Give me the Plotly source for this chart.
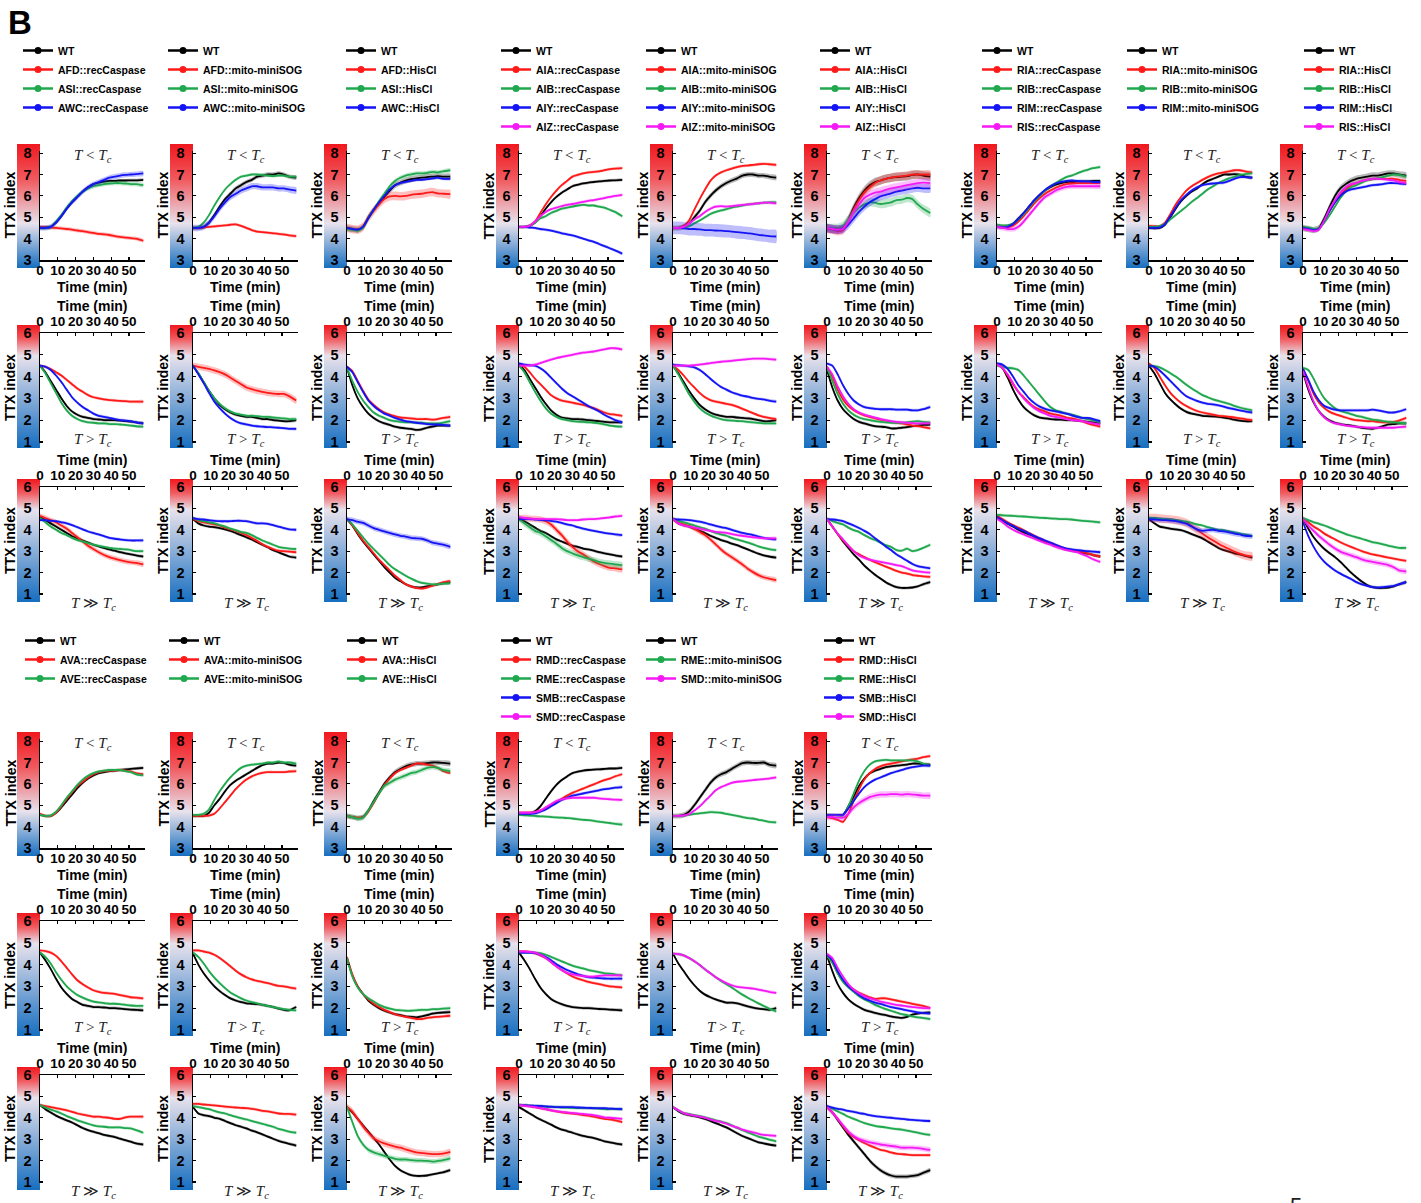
import base64
import plotly.graph_objects as go

# ---------------------------------------------------------------- data
TIME = [0, 3, 6, 9, 12, 15, 18, 21, 24, 27, 30, 33, 36, 39, 42, 45, 48, 51, 54, 58]
X_TICKS = [0, 10, 20, 30, 40, 50]
Y_TICKS_LT = [3, 4, 5, 6, 7, 8]
Y_TICKS_HI = [1, 2, 3, 4, 5, 6]

# ---- AFD / ASI / AWC
A_CASP_LT = {
    "WT":  [4.5, 4.5, 4.55, 4.75, 5.05, 5.4, 5.7, 5.95, 6.2, 6.4, 6.55, 6.62, 6.67, 6.7, 6.7, 6.72, 6.72, 6.73, 6.73, 6.75],
    "AFD": [4.55, 4.55, 4.52, 4.5, 4.48, 4.45, 4.42, 4.38, 4.35, 4.3, 4.27, 4.22, 4.2, 4.17, 4.12, 4.08, 4.05, 4.02, 4.0, 3.9],
    "ASI": [4.5, 4.5, 4.55, 4.8, 5.1, 5.45, 5.75, 6.0, 6.2, 6.35, 6.45, 6.5, 6.55, 6.58, 6.6, 6.6, 6.58, 6.55, 6.55, 6.5],
    "AWC": [4.5, 4.5, 4.55, 4.75, 5.05, 5.4, 5.7, 5.95, 6.2, 6.4, 6.55, 6.65, 6.75, 6.85, 6.9, 6.95, 6.98, 7.0, 7.02, 7.05],
}
A_SOG_LT = {
    "WT":  [4.5, 4.5, 4.55, 4.75, 5.1, 5.5, 5.85, 6.1, 6.35, 6.5, 6.65, 6.75, 6.9, 6.95, 7.0, 7.0, 7.05, 7.0, 6.9, 6.85],
    "AFD": [4.5, 4.5, 4.52, 4.55, 4.57, 4.6, 4.62, 4.65, 4.67, 4.6, 4.5, 4.4, 4.33, 4.3, 4.28, 4.25, 4.22, 4.2, 4.15, 4.12],
    "ASI": [4.5, 4.55, 4.75, 5.1, 5.55, 5.95, 6.3, 6.55, 6.75, 6.9, 6.95, 7.0, 7.0, 6.98, 6.95, 6.92, 6.95, 6.95, 6.9, 6.9],
    "AWC": [4.5, 4.5, 4.55, 4.75, 5.05, 5.4, 5.7, 5.95, 6.1, 6.25, 6.35, 6.45, 6.45, 6.4, 6.4, 6.4, 6.35, 6.35, 6.3, 6.25],
}
A_HIS_LT = {
    "WT":  [4.5, 4.45, 4.42, 4.55, 5.0, 5.35, 5.65, 5.95, 6.25, 6.5, 6.62, 6.72, 6.78, 6.82, 6.85, 6.88, 6.9, 6.92, 6.9, 6.9],
    "AFD": [4.5, 4.45, 4.42, 4.55, 4.95, 5.3, 5.6, 5.85, 5.98, 6.0, 5.98, 6.0, 6.05, 6.08, 6.1, 6.15, 6.18, 6.12, 6.1, 6.08],
    "ASI": [4.45, 4.42, 4.38, 4.5, 4.95, 5.35, 5.75, 6.1, 6.45, 6.7, 6.85, 6.95, 7.0, 7.05, 7.05, 7.08, 7.12, 7.1, 7.15, 7.2],
    "AWC": [4.5, 4.45, 4.42, 4.55, 4.95, 5.35, 5.7, 6.0, 6.3, 6.5, 6.6, 6.65, 6.7, 6.75, 6.75, 6.78, 6.82, 6.85, 6.8, 6.8],
}
A_CASP_GT = {
    "WT":  [4.5, 4.2, 3.8, 3.4, 3.0, 2.65, 2.4, 2.25, 2.15, 2.1, 2.05, 2.03, 2.0, 2.0, 2.0, 1.98, 1.95, 1.93, 1.9, 1.85],
    "AFD": [4.5, 4.45, 4.35, 4.2, 4.05, 3.85, 3.65, 3.45, 3.3, 3.15, 3.05, 3.0, 2.95, 2.92, 2.9, 2.88, 2.87, 2.85, 2.85, 2.85],
    "ASI": [4.5, 4.15, 3.7, 3.25, 2.8, 2.45, 2.2, 2.05, 1.95, 1.9, 1.88, 1.85, 1.85, 1.82, 1.82, 1.8, 1.78, 1.75, 1.72, 1.7],
    "AWC": [4.5, 4.45, 4.3, 4.05, 3.75, 3.4, 3.05, 2.8, 2.6, 2.45, 2.3, 2.2, 2.15, 2.1, 2.05, 2.0, 1.98, 1.95, 1.9, 1.85],
}
A_SOG_GT = {
    "WT":  [4.5, 4.15, 3.75, 3.35, 3.0, 2.7, 2.5, 2.35, 2.25, 2.2, 2.15, 2.15, 2.1, 2.05, 2.05, 2.0, 1.98, 1.95, 1.95, 2.0],
    "AFD": [4.5, 4.45, 4.4, 4.35, 4.28, 4.2, 4.1, 3.95, 3.8, 3.65, 3.5, 3.42, 3.35, 3.3, 3.25, 3.22, 3.2, 3.2, 3.1, 2.9],
    "ASI": [4.5, 4.15, 3.75, 3.35, 3.0, 2.75, 2.55, 2.4, 2.3, 2.25, 2.2, 2.2, 2.18, 2.15, 2.15, 2.12, 2.1, 2.08, 2.05, 2.05],
    "AWC": [4.5, 4.1, 3.7, 3.25, 2.85, 2.55, 2.3, 2.1, 1.95, 1.85, 1.8, 1.75, 1.72, 1.7, 1.68, 1.67, 1.65, 1.63, 1.6, 1.6],
}
A_HIS_GT = {
    "WT":  [4.4, 3.6, 3.0, 2.6, 2.3, 2.1, 1.95, 1.85, 1.78, 1.7, 1.65, 1.62, 1.6, 1.55, 1.58, 1.65, 1.7, 1.75, 1.75, 1.75],
    "AFD": [4.45, 4.25, 3.8, 3.35, 2.95, 2.7, 2.5, 2.35, 2.25, 2.18, 2.12, 2.1, 2.08, 2.05, 2.05, 2.05, 2.02, 2.05, 2.1, 2.15],
    "ASI": [4.4, 3.8, 3.3, 2.9, 2.6, 2.35, 2.2, 2.1, 2.0, 1.95, 1.92, 1.9, 1.9, 1.88, 1.88, 1.85, 1.85, 1.85, 1.88, 1.95],
    "AWC": [4.45, 4.2, 3.75, 3.3, 2.9, 2.65, 2.45, 2.3, 2.2, 2.1, 2.02, 1.95, 1.92, 1.88, 1.85, 1.82, 1.8, 1.8, 1.78, 1.75],
}
A_CASP_GG = {
    "WT":  [4.6, 4.45, 4.3, 4.15, 4.0, 3.85, 3.7, 3.6, 3.5, 3.4, 3.3, 3.22, 3.15, 3.08, 3.02, 2.95, 2.9, 2.85, 2.8, 2.75],
    "AFD": [4.65, 4.55, 4.45, 4.35, 4.2, 4.05, 3.85, 3.65, 3.45, 3.25, 3.1, 2.95, 2.82, 2.72, 2.65, 2.58, 2.52, 2.48, 2.45, 2.38],
    "ASI": [4.55, 4.35, 4.15, 4.0, 3.85, 3.75, 3.62, 3.52, 3.45, 3.38, 3.3, 3.25, 3.2, 3.15, 3.12, 3.1, 3.08, 3.05, 3.0, 3.0],
    "AWC": [4.45, 4.45, 4.42, 4.4, 4.35, 4.3, 4.22, 4.12, 4.02, 3.92, 3.85, 3.78, 3.7, 3.62, 3.58, 3.55, 3.52, 3.5, 3.5, 3.5],
}
A_SOG_GG = {
    "WT":  [4.5, 4.3, 4.2, 4.15, 4.12, 4.08, 4.02, 3.95, 3.85, 3.75, 3.65, 3.55, 3.42, 3.3, 3.18, 3.05, 2.95, 2.85, 2.75, 2.7],
    "AFD": [4.5, 4.4, 4.35, 4.3, 4.25, 4.2, 4.1, 4.02, 3.95, 3.85, 3.75, 3.62, 3.48, 3.32, 3.2, 3.1, 3.02, 3.0, 2.98, 2.95],
    "ASI": [4.55, 4.45, 4.4, 4.35, 4.3, 4.22, 4.15, 4.05, 3.98, 3.9, 3.85, 3.75, 3.62, 3.5, 3.4, 3.3, 3.2, 3.15, 3.12, 3.1],
    "AWC": [4.55, 4.5, 4.48, 4.45, 4.42, 4.4, 4.4, 4.4, 4.42, 4.42, 4.4, 4.35, 4.3, 4.3, 4.28, 4.22, 4.15, 4.08, 4.02, 4.0],
}
A_HIS_GG = {
    "WT":  [4.5, 4.2, 3.8, 3.45, 3.15, 2.85, 2.55, 2.25, 2.0, 1.75, 1.6, 1.45, 1.35, 1.3, 1.3, 1.35, 1.4, 1.45, 1.5, 1.55],
    "AFD": [4.5, 4.2, 3.85, 3.5, 3.2, 2.9, 2.6, 2.35, 2.1, 1.85, 1.65, 1.45, 1.35, 1.28, 1.25, 1.3, 1.38, 1.45, 1.55, 1.6],
    "ASI": [4.5, 4.25, 3.95, 3.65, 3.35, 3.1, 2.85, 2.6, 2.35, 2.15, 2.0, 1.85, 1.72, 1.6, 1.52, 1.48, 1.45, 1.45, 1.48, 1.5],
    "AWC": [4.5, 4.45, 4.38, 4.32, 4.2, 4.08, 4.0, 3.92, 3.85, 3.78, 3.72, 3.68, 3.62, 3.6, 3.58, 3.5, 3.4, 3.35, 3.3, 3.2],
}

# ---- AIA / AIB / AIY / AIZ
B_CASP_LT = {
    "WT":  [4.55, 4.55, 4.6, 4.75, 5.05, 5.4, 5.7, 5.95, 6.15, 6.3, 6.45, 6.52, 6.58, 6.62, 6.65, 6.68, 6.7, 6.72, 6.73, 6.75],
    "AIA": [4.55, 4.55, 4.6, 4.8, 5.2, 5.6, 5.95, 6.25, 6.5, 6.7, 6.9, 6.98, 7.05, 7.1, 7.12, 7.15, 7.2, 7.25, 7.28, 7.3],
    "AIB": [4.55, 4.55, 4.6, 4.75, 4.95, 5.05, 5.2, 5.3, 5.4, 5.45, 5.5, 5.55, 5.58, 5.55, 5.55, 5.5, 5.45, 5.35, 5.25, 5.05],
    "AIY": [4.55, 4.55, 4.52, 4.5, 4.45, 4.42, 4.38, 4.32, 4.25, 4.2, 4.15, 4.08, 4.0, 3.92, 3.85, 3.75, 3.65, 3.55, 3.45, 3.3],
    "AIZ": [4.55, 4.55, 4.6, 4.8, 5.05, 5.25, 5.38, 5.45, 5.52, 5.58, 5.62, 5.67, 5.72, 5.77, 5.8, 5.85, 5.9, 5.95, 6.0, 6.05],
}
B_SOG_LT = {
    "WT":  [4.5, 4.5, 4.55, 4.7, 5.0, 5.3, 5.7, 6.0, 6.25, 6.45, 6.6, 6.72, 6.82, 6.95, 7.0, 7.0, 6.95, 6.95, 6.9, 6.85],
    "AIA": [4.5, 4.5, 4.6, 4.85, 5.35, 5.85, 6.3, 6.7, 6.95, 7.1, 7.2, 7.28, 7.35, 7.4, 7.42, 7.45, 7.48, 7.5, 7.48, 7.45],
    "AIB": [4.5, 4.5, 4.52, 4.58, 4.72, 4.85, 5.0, 5.15, 5.25, 5.32, 5.38, 5.45, 5.5, 5.55, 5.6, 5.62, 5.65, 5.68, 5.7, 5.7],
    "AIY": [4.5, 4.5, 4.48, 4.45, 4.45, 4.43, 4.4, 4.4, 4.38, 4.37, 4.35, 4.33, 4.3, 4.28, 4.25, 4.22, 4.18, 4.15, 4.12, 4.1],
    "AIZ": [4.5, 4.5, 4.55, 4.7, 4.9, 5.05, 5.25, 5.4, 5.5, 5.52, 5.5, 5.52, 5.55, 5.58, 5.6, 5.62, 5.65, 5.68, 5.68, 5.65],
}
B_HIS_LT = {
    "WT":  [4.5, 4.45, 4.42, 4.5, 4.9, 5.45, 5.9, 6.25, 6.5, 6.65, 6.72, 6.8, 6.85, 6.88, 6.9, 6.92, 6.98, 7.0, 6.95, 6.9],
    "AIA": [4.45, 4.42, 4.35, 4.4, 4.8, 5.35, 5.8, 6.15, 6.4, 6.6, 6.72, 6.8, 6.85, 6.9, 6.92, 6.95, 7.0, 7.0, 7.0, 7.0],
    "AIB": [4.5, 4.5, 4.5, 4.6, 4.9, 5.2, 5.45, 5.6, 5.7, 5.68, 5.62, 5.65, 5.7, 5.8, 5.82, 5.9, 5.85, 5.6, 5.4, 5.2],
    "AIY": [4.5, 4.45, 4.42, 4.45, 4.65, 4.95, 5.25, 5.5, 5.7, 5.85, 5.98, 6.05, 6.12, 6.2, 6.25, 6.3, 6.35, 6.38, 6.35, 6.35],
    "AIZ": [4.5, 4.45, 4.42, 4.45, 4.8, 5.25, 5.6, 5.9, 6.05, 6.15, 6.2, 6.28, 6.35, 6.4, 6.45, 6.5, 6.55, 6.6, 6.62, 6.6],
}
B_CASP_GT = {
    "WT":  [4.55, 4.3, 3.9, 3.5, 3.1, 2.75, 2.45, 2.25, 2.12, 2.08, 2.05, 2.05, 2.03, 2.0, 1.98, 1.95, 1.92, 1.9, 1.9, 1.9],
    "AIA": [4.55, 4.45, 4.2, 3.9, 3.65, 3.4, 3.15, 3.0, 2.9, 2.85, 2.8, 2.75, 2.7, 2.62, 2.55, 2.45, 2.35, 2.28, 2.25, 2.2],
    "AIB": [4.5, 4.2, 3.75, 3.3, 2.9, 2.55, 2.3, 2.15, 2.05, 2.0, 1.95, 1.93, 1.92, 1.9, 1.88, 1.85, 1.8, 1.75, 1.72, 1.7],
    "AIY": [4.6, 4.55, 4.52, 4.5, 4.38, 4.2, 3.95, 3.7, 3.45, 3.25, 3.1, 2.95, 2.8, 2.65, 2.52, 2.4, 2.25, 2.12, 2.0, 1.9],
    "AIZ": [4.5, 4.5, 4.5, 4.55, 4.62, 4.7, 4.78, 4.85, 4.9, 4.95, 5.0, 5.05, 5.1, 5.12, 5.15, 5.2, 5.25, 5.3, 5.3, 5.25],
}
B_SOG_GT = {
    "WT":  [4.5, 4.15, 3.75, 3.35, 3.0, 2.7, 2.5, 2.35, 2.25, 2.2, 2.15, 2.15, 2.12, 2.1, 2.08, 2.05, 2.0, 1.95, 1.95, 2.0],
    "AIA": [4.5, 4.3, 4.05, 3.75, 3.5, 3.25, 3.05, 2.92, 2.85, 2.8, 2.75, 2.7, 2.62, 2.52, 2.42, 2.32, 2.22, 2.15, 2.1, 2.05],
    "AIB": [4.5, 4.1, 3.65, 3.2, 2.85, 2.55, 2.35, 2.22, 2.12, 2.05, 2.0, 1.98, 1.96, 1.95, 1.92, 1.9, 1.87, 1.85, 1.85, 1.85],
    "AIY": [4.55, 4.52, 4.5, 4.47, 4.42, 4.3, 4.12, 3.9, 3.7, 3.52, 3.4, 3.28, 3.2, 3.12, 3.08, 3.02, 2.98, 2.95, 2.9, 2.85],
    "AIZ": [4.5, 4.5, 4.5, 4.5, 4.52, 4.55, 4.58, 4.62, 4.65, 4.68, 4.7, 4.72, 4.75, 4.78, 4.8, 4.82, 4.82, 4.82, 4.8, 4.78],
}
B_HIS_GT = {
    "WT":  [4.3, 3.5, 2.9, 2.5, 2.25, 2.05, 1.92, 1.85, 1.78, 1.72, 1.7, 1.68, 1.62, 1.62, 1.65, 1.68, 1.72, 1.75, 1.78, 1.8],
    "AIA": [4.45, 4.0, 3.4, 2.95, 2.65, 2.45, 2.32, 2.22, 2.15, 2.08, 2.02, 1.98, 1.92, 1.88, 1.85, 1.8, 1.75, 1.72, 1.68, 1.62],
    "AIB": [4.4, 3.8, 3.2, 2.75, 2.45, 2.25, 2.12, 2.05, 2.0, 1.95, 1.92, 1.9, 1.88, 1.87, 1.88, 1.9, 1.93, 1.95, 1.92, 1.9],
    "AIY": [4.6, 4.5, 4.1, 3.6, 3.2, 2.9, 2.72, 2.6, 2.55, 2.52, 2.5, 2.5, 2.5, 2.48, 2.48, 2.48, 2.45, 2.45, 2.5, 2.6],
    "AIZ": [4.45, 4.1, 3.55, 3.1, 2.75, 2.5, 2.35, 2.25, 2.18, 2.12, 2.05, 2.0, 1.95, 1.92, 1.9, 1.88, 1.86, 1.85, 1.85, 1.85],
}
B_CASP_GG = {
    "WT":  [4.5, 4.4, 4.25, 4.1, 3.95, 3.85, 3.7, 3.55, 3.45, 3.35, 3.25, 3.2, 3.12, 3.08, 3.02, 2.95, 2.9, 2.85, 2.8, 2.75],
    "AIA": [4.55, 4.55, 4.52, 4.5, 4.48, 4.4, 4.25, 4.0, 3.75, 3.45, 3.2, 3.0, 2.85, 2.68, 2.52, 2.4, 2.3, 2.22, 2.2, 2.15],
    "AIB": [4.5, 4.3, 4.12, 3.95, 3.85, 3.7, 3.52, 3.35, 3.15, 3.0, 2.9, 2.8, 2.72, 2.65, 2.58, 2.5, 2.45, 2.42, 2.38, 2.35],
    "AIY": [4.5, 4.5, 4.5, 4.48, 4.46, 4.45, 4.42, 4.38, 4.32, 4.25, 4.2, 4.12, 4.05, 4.0, 3.95, 3.9, 3.85, 3.82, 3.78, 3.75],
    "AIZ": [4.6, 4.55, 4.52, 4.5, 4.5, 4.5, 4.5, 4.5, 4.48, 4.45, 4.45, 4.45, 4.48, 4.5, 4.5, 4.52, 4.55, 4.58, 4.62, 4.65],
}
B_SOG_GG = {
    "WT":  [4.5, 4.3, 4.22, 4.15, 4.05, 3.95, 3.85, 3.72, 3.62, 3.52, 3.45, 3.35, 3.28, 3.18, 3.08, 2.98, 2.88, 2.8, 2.75, 2.7],
    "AIA": [4.5, 4.35, 4.25, 4.18, 4.05, 3.9, 3.75, 3.55, 3.32, 3.08, 2.88, 2.72, 2.55, 2.38, 2.18, 2.02, 1.88, 1.78, 1.72, 1.65],
    "AIB": [4.5, 4.42, 4.35, 4.28, 4.2, 4.12, 4.05, 3.95, 3.85, 3.78, 3.72, 3.62, 3.55, 3.48, 3.4, 3.32, 3.22, 3.15, 3.1, 3.05],
    "AIY": [4.5, 4.48, 4.47, 4.45, 4.42, 4.38, 4.32, 4.25, 4.18, 4.12, 4.08, 4.0, 3.92, 3.85, 3.8, 3.75, 3.68, 3.62, 3.58, 3.55],
    "AIZ": [4.5, 4.3, 4.2, 4.15, 4.1, 4.05, 4.0, 3.95, 3.9, 3.88, 3.85, 3.8, 3.75, 3.72, 3.68, 3.65, 3.62, 3.6, 3.6, 3.6],
}
B_HIS_GG = {
    "WT":  [4.5, 4.15, 3.8, 3.45, 3.15, 2.85, 2.6, 2.32, 2.1, 1.9, 1.72, 1.55, 1.42, 1.32, 1.28, 1.28, 1.3, 1.35, 1.45, 1.55],
    "AIA": [4.5, 4.15, 3.8, 3.5, 3.25, 3.0, 2.85, 2.72, 2.6, 2.48, 2.38, 2.28, 2.18, 2.08, 2.0, 1.95, 1.88, 1.85, 1.82, 1.8],
    "AIB": [4.5, 4.4, 4.32, 4.25, 4.1, 3.98, 3.9, 3.75, 3.62, 3.52, 3.4, 3.28, 3.2, 3.05, 3.02, 3.12, 3.0, 3.05, 3.15, 3.3],
    "AIY": [4.5, 4.48, 4.45, 4.4, 4.3, 4.2, 4.08, 3.95, 3.8, 3.6, 3.42, 3.22, 3.05, 2.85, 2.7, 2.55, 2.4, 2.3, 2.25, 2.2],
    "AIZ": [4.5, 4.15, 3.82, 3.55, 3.25, 3.0, 2.8, 2.68, 2.6, 2.55, 2.5, 2.45, 2.4, 2.35, 2.3, 2.2, 2.1, 2.05, 2.02, 2.0],
}

# ---- RIA / RIB / RIM / RIS
C_CASP_LT = {
    "WT":  [4.55, 4.55, 4.6, 4.7, 4.95, 5.2, 5.5, 5.8, 6.05, 6.25, 6.4, 6.52, 6.6, 6.65, 6.65, 6.67, 6.68, 6.68, 6.7, 6.7],
    "RIA": [4.55, 4.52, 4.52, 4.6, 4.8, 5.05, 5.35, 5.65, 5.9, 6.1, 6.25, 6.38, 6.48, 6.55, 6.58, 6.6, 6.6, 6.6, 6.6, 6.6],
    "RIB": [4.65, 4.62, 4.62, 4.7, 4.9, 5.15, 5.45, 5.75, 6.0, 6.25, 6.45, 6.6, 6.75, 6.88, 6.95, 7.05, 7.15, 7.22, 7.3, 7.35],
    "RIM": [4.55, 4.52, 4.55, 4.68, 4.92, 5.2, 5.5, 5.8, 6.05, 6.28, 6.45, 6.58, 6.65, 6.7, 6.72, 6.7, 6.68, 6.68, 6.65, 6.65],
    "RIS": [4.55, 4.5, 4.45, 4.45, 4.55, 4.8, 5.1, 5.4, 5.7, 5.95, 6.1, 6.25, 6.35, 6.42, 6.45, 6.45, 6.45, 6.45, 6.45, 6.45],
}
C_SOG_LT = {
    "WT":  [4.5, 4.48, 4.5, 4.65, 5.0, 5.4, 5.75, 6.0, 6.2, 6.35, 6.55, 6.7, 6.8, 6.9, 7.0, 7.0, 7.02, 7.0, 6.9, 6.85],
    "RIA": [4.6, 4.58, 4.58, 4.75, 5.15, 5.6, 5.95, 6.25, 6.45, 6.6, 6.75, 6.88, 6.98, 7.05, 7.1, 7.15, 7.2, 7.2, 7.15, 7.1],
    "RIB": [4.55, 4.55, 4.58, 4.7, 4.9, 5.1, 5.3, 5.5, 5.72, 5.9, 6.1, 6.3, 6.45, 6.6, 6.72, 6.82, 6.9, 6.98, 7.02, 7.05],
    "RIM": [4.5, 4.5, 4.52, 4.68, 5.05, 5.45, 5.8, 6.05, 6.25, 6.4, 6.5, 6.55, 6.58, 6.6, 6.62, 6.7, 6.8, 6.88, 6.88, 6.85],
}
C_HIS_LT = {
    "WT":  [4.5, 4.45, 4.4, 4.5, 4.95, 5.5, 6.0, 6.35, 6.55, 6.7, 6.8, 6.85, 6.9, 6.95, 6.95, 7.0, 7.05, 7.05, 7.0, 6.95],
    "RIA": [4.5, 4.45, 4.4, 4.45, 4.85, 5.3, 5.7, 6.05, 6.3, 6.5, 6.6, 6.68, 6.75, 6.78, 6.8, 6.8, 6.8, 6.8, 6.75, 6.7],
    "RIB": [4.55, 4.52, 4.45, 4.48, 4.75, 5.1, 5.5, 5.9, 6.2, 6.4, 6.5, 6.62, 6.72, 6.78, 6.82, 6.88, 6.95, 7.0, 6.98, 6.9],
    "RIM": [4.5, 4.45, 4.4, 4.45, 4.85, 5.3, 5.7, 6.0, 6.2, 6.3, 6.35, 6.4, 6.45, 6.5, 6.52, 6.55, 6.6, 6.6, 6.58, 6.55],
    "RIS": [4.45, 4.4, 4.35, 4.42, 4.85, 5.4, 5.8, 6.15, 6.4, 6.55, 6.6, 6.7, 6.75, 6.8, 6.8, 6.78, 6.75, 6.72, 6.65, 6.6],
}
C_CASP_GT = {
    "WT":  [4.6, 4.4, 3.95, 3.4, 2.95, 2.6, 2.38, 2.22, 2.12, 2.08, 2.05, 2.03, 2.02, 2.0, 2.0, 1.98, 1.95, 1.92, 1.9, 1.85],
    "RIA": [4.55, 4.4, 4.05, 3.65, 3.3, 3.05, 2.8, 2.6, 2.48, 2.4, 2.3, 2.25, 2.2, 2.12, 2.08, 2.02, 1.95, 1.85, 1.78, 1.7],
    "RIB": [4.5, 4.45, 4.4, 4.38, 4.3, 4.05, 3.75, 3.45, 3.15, 2.85, 2.6, 2.45, 2.38, 2.3, 2.25, 2.18, 2.1, 2.05, 2.0, 1.9],
    "RIM": [4.6, 4.55, 4.35, 4.0, 3.6, 3.3, 3.0, 2.78, 2.62, 2.52, 2.45, 2.4, 2.35, 2.3, 2.22, 2.15, 2.1, 2.1, 2.05, 1.95],
    "RIS": [4.55, 4.4, 4.1, 3.7, 3.3, 3.0, 2.75, 2.55, 2.4, 2.3, 2.2, 2.15, 2.1, 2.05, 2.0, 1.98, 1.95, 1.9, 1.85, 1.8],
}
C_SOG_GT = {
    "WT":  [4.5, 4.15, 3.7, 3.25, 2.95, 2.72, 2.52, 2.38, 2.3, 2.25, 2.2, 2.18, 2.17, 2.15, 2.12, 2.08, 2.02, 1.98, 1.95, 1.95],
    "RIA": [4.6, 4.4, 4.0, 3.6, 3.25, 3.0, 2.8, 2.65, 2.52, 2.42, 2.35, 2.3, 2.25, 2.2, 2.18, 2.15, 2.12, 2.08, 2.05, 2.0],
    "RIB": [4.5, 4.48, 4.42, 4.3, 4.15, 4.0, 3.82, 3.62, 3.45, 3.3, 3.15, 3.05, 2.95, 2.88, 2.82, 2.75, 2.65, 2.58, 2.52, 2.45],
    "RIM": [4.5, 4.45, 4.28, 4.05, 3.8, 3.55, 3.3, 3.1, 2.98, 2.88, 2.8, 2.75, 2.72, 2.68, 2.62, 2.55, 2.5, 2.45, 2.4, 2.35],
}
C_HIS_GT = {
    "WT":  [4.2, 3.4, 2.8, 2.4, 2.15, 1.98, 1.88, 1.82, 1.78, 1.75, 1.7, 1.65, 1.62, 1.6, 1.65, 1.72, 1.8, 1.82, 1.85, 1.85],
    "RIA": [4.35, 3.8, 3.2, 2.8, 2.55, 2.38, 2.28, 2.2, 2.12, 2.05, 2.0, 1.98, 1.95, 1.95, 1.92, 1.9, 1.9, 1.92, 1.98, 2.1],
    "RIB": [4.4, 4.3, 3.9, 3.4, 3.0, 2.75, 2.55, 2.42, 2.35, 2.28, 2.2, 2.15, 2.08, 2.02, 2.0, 1.95, 1.92, 1.9, 1.88, 1.85],
    "RIM": [4.35, 3.85, 3.3, 2.9, 2.65, 2.55, 2.48, 2.45, 2.45, 2.45, 2.45, 2.45, 2.45, 2.48, 2.45, 2.4, 2.35, 2.35, 2.4, 2.5],
    "RIS": [4.25, 3.5, 2.85, 2.4, 2.12, 1.95, 1.85, 1.8, 1.75, 1.72, 1.7, 1.68, 1.66, 1.65, 1.65, 1.65, 1.65, 1.65, 1.68, 1.7],
}
C_CASP_GG = {
    "WT":  [4.6, 4.45, 4.28, 4.15, 4.0, 3.88, 3.78, 3.68, 3.55, 3.45, 3.35, 3.25, 3.15, 3.08, 3.02, 2.98, 2.92, 2.88, 2.82, 2.75],
    "RIA": [4.65, 4.5, 4.35, 4.22, 4.1, 3.98, 3.85, 3.72, 3.6, 3.48, 3.38, 3.28, 3.18, 3.1, 3.05, 3.0, 2.95, 2.9, 2.82, 2.75],
    "RIB": [4.7, 4.68, 4.66, 4.65, 4.63, 4.62, 4.6, 4.58, 4.56, 4.55, 4.53, 4.52, 4.5, 4.5, 4.48, 4.45, 4.42, 4.4, 4.38, 4.35],
    "RIM": [4.6, 4.45, 4.3, 4.18, 4.05, 3.95, 3.82, 3.7, 3.6, 3.5, 3.4, 3.3, 3.2, 3.12, 3.08, 3.05, 3.02, 3.0, 2.98, 2.95],
    "RIS": [4.5, 4.35, 4.15, 4.0, 3.88, 3.78, 3.68, 3.58, 3.48, 3.38, 3.3, 3.2, 3.12, 3.05, 3.0, 2.95, 2.85, 2.75, 2.62, 2.5],
}
C_SOG_GG = {
    "WT":  [4.5, 4.3, 4.15, 4.1, 4.05, 4.02, 3.98, 3.9, 3.8, 3.7, 3.6, 3.45, 3.3, 3.15, 3.05, 2.98, 2.9, 2.85, 2.78, 2.7],
    "RIA": [4.55, 4.55, 4.52, 4.5, 4.48, 4.45, 4.4, 4.32, 4.18, 4.0, 3.82, 3.65, 3.5, 3.35, 3.22, 3.1, 2.98, 2.88, 2.8, 2.75],
    "RIB": [4.55, 4.55, 4.52, 4.5, 4.48, 4.45, 4.42, 4.38, 4.32, 4.25, 4.2, 4.12, 4.05, 4.0, 3.98, 3.92, 3.88, 3.82, 3.78, 3.7],
    "RIM": [4.5, 4.48, 4.46, 4.45, 4.43, 4.4, 4.35, 4.28, 4.15, 4.02, 3.95, 3.98, 4.0, 3.95, 3.92, 3.88, 3.82, 3.78, 3.72, 3.7],
}
C_HIS_GG = {
    "WT":  [4.5, 4.05, 3.65, 3.35, 3.1, 2.9, 2.72, 2.5, 2.25, 2.0, 1.78, 1.58, 1.42, 1.32, 1.28, 1.28, 1.3, 1.35, 1.45, 1.55],
    "RIA": [4.55, 4.35, 4.15, 4.0, 3.82, 3.68, 3.55, 3.42, 3.3, 3.2, 3.1, 3.0, 2.92, 2.85, 2.8, 2.75, 2.7, 2.65, 2.6, 2.55],
    "RIB": [4.55, 4.45, 4.35, 4.28, 4.2, 4.1, 4.0, 3.9, 3.8, 3.72, 3.65, 3.58, 3.5, 3.42, 3.38, 3.32, 3.25, 3.2, 3.15, 3.15],
    "RIM": [4.35, 3.7, 3.2, 2.8, 2.5, 2.28, 2.1, 1.95, 1.82, 1.7, 1.55, 1.45, 1.38, 1.32, 1.3, 1.32, 1.35, 1.38, 1.45, 1.55],
    "RIS": [4.5, 4.2, 3.95, 3.7, 3.5, 3.3, 3.12, 2.98, 2.88, 2.8, 2.72, 2.62, 2.55, 2.5, 2.45, 2.4, 2.35, 2.25, 2.1, 2.05],
}

# ---- AVA / AVE
D_CASP_LT = {
    "WT":  [4.55, 4.5, 4.5, 4.65, 4.9, 5.2, 5.5, 5.8, 6.05, 6.25, 6.4, 6.5, 6.55, 6.6, 6.62, 6.65, 6.68, 6.7, 6.72, 6.75],
    "AVA": [4.6, 4.5, 4.5, 4.65, 4.95, 5.3, 5.6, 5.9, 6.1, 6.3, 6.45, 6.55, 6.6, 6.62, 6.62, 6.65, 6.62, 6.58, 6.5, 6.45],
    "AVE": [4.55, 4.5, 4.52, 4.7, 5.0, 5.35, 5.65, 5.95, 6.2, 6.38, 6.5, 6.58, 6.62, 6.65, 6.65, 6.65, 6.6, 6.55, 6.45, 6.4],
}
D_SOG_LT = {
    "WT":  [4.5, 4.5, 4.5, 4.65, 5.0, 5.3, 5.65, 5.95, 6.15, 6.3, 6.45, 6.6, 6.75, 6.88, 6.95, 6.95, 7.0, 6.98, 6.9, 6.85],
    "AVA": [4.5, 4.5, 4.5, 4.52, 4.6, 4.85, 5.15, 5.45, 5.75, 6.0, 6.2, 6.35, 6.45, 6.52, 6.55, 6.55, 6.55, 6.55, 6.58, 6.6],
    "AVE": [4.55, 4.55, 4.6, 4.8, 5.25, 5.65, 6.0, 6.3, 6.55, 6.75, 6.85, 6.9, 6.92, 6.95, 7.0, 7.0, 7.05, 7.0, 7.0, 6.95],
}
D_HIS_LT = {
    "WT":  [4.5, 4.45, 4.4, 4.45, 4.75, 5.2, 5.6, 6.0, 6.3, 6.55, 6.7, 6.82, 6.9, 6.95, 6.95, 6.97, 7.0, 7.0, 6.98, 6.95],
    "AVA": [4.5, 4.45, 4.42, 4.45, 4.7, 5.1, 5.55, 5.95, 6.25, 6.5, 6.65, 6.75, 6.85, 6.95, 6.95, 6.9, 6.85, 6.75, 6.6, 6.5],
    "AVE": [4.5, 4.45, 4.38, 4.42, 4.75, 5.15, 5.55, 5.9, 6.05, 6.2, 6.3, 6.4, 6.5, 6.55, 6.65, 6.75, 6.78, 6.75, 6.65, 6.6],
}
D_CASP_GT = {
    "WT":  [4.55, 4.2, 3.8, 3.35, 2.95, 2.65, 2.42, 2.28, 2.15, 2.1, 2.05, 2.05, 2.03, 2.0, 2.0, 1.98, 1.95, 1.93, 1.92, 1.9],
    "AVA": [4.65, 4.62, 4.55, 4.4, 4.15, 3.85, 3.55, 3.28, 3.1, 2.95, 2.82, 2.75, 2.7, 2.68, 2.65, 2.6, 2.55, 2.5, 2.48, 2.45],
    "AVE": [4.55, 4.35, 4.05, 3.65, 3.3, 3.0, 2.78, 2.6, 2.48, 2.38, 2.3, 2.26, 2.23, 2.2, 2.2, 2.18, 2.15, 2.12, 2.1, 2.1],
}
D_SOG_GT = {
    "WT":  [4.5, 4.0, 3.6, 3.28, 3.0, 2.78, 2.6, 2.45, 2.35, 2.28, 2.22, 2.2, 2.18, 2.15, 2.1, 2.05, 1.98, 1.92, 1.9, 2.05],
    "AVA": [4.65, 4.65, 4.6, 4.55, 4.45, 4.3, 4.12, 3.92, 3.72, 3.55, 3.42, 3.32, 3.25, 3.2, 3.15, 3.08, 3.02, 3.0, 2.95, 2.9],
    "AVE": [4.55, 4.35, 4.05, 3.7, 3.4, 3.15, 2.92, 2.72, 2.58, 2.45, 2.35, 2.28, 2.22, 2.15, 2.1, 2.05, 2.0, 1.95, 1.92, 1.9],
}
D_HIS_GT = {
    "WT":  [4.3, 3.5, 3.0, 2.65, 2.35, 2.15, 2.0, 1.88, 1.8, 1.72, 1.68, 1.62, 1.6, 1.58, 1.62, 1.68, 1.75, 1.78, 1.8, 1.82],
    "AVA": [4.35, 3.55, 3.0, 2.65, 2.4, 2.2, 2.05, 1.92, 1.82, 1.72, 1.65, 1.6, 1.55, 1.5, 1.5, 1.55, 1.58, 1.6, 1.62, 1.65],
    "AVE": [4.3, 3.45, 2.95, 2.65, 2.45, 2.3, 2.15, 2.05, 1.98, 1.92, 1.9, 1.88, 1.88, 1.9, 1.92, 1.92, 1.95, 1.95, 1.98, 2.0],
}
D_CASP_GG = {
    "WT":  [4.6, 4.4, 4.25, 4.1, 3.98, 3.88, 3.78, 3.65, 3.52, 3.42, 3.35, 3.28, 3.2, 3.15, 3.1, 3.02, 2.95, 2.88, 2.8, 2.75],
    "AVA": [4.6, 4.55, 4.5, 4.45, 4.4, 4.35, 4.28, 4.2, 4.15, 4.1, 4.05, 4.05, 4.02, 4.0, 3.95, 3.95, 4.02, 4.05, 4.05, 4.05],
    "AVE": [4.6, 4.48, 4.38, 4.3, 4.2, 4.08, 3.98, 3.88, 3.8, 3.72, 3.65, 3.6, 3.58, 3.55, 3.55, 3.55, 3.52, 3.5, 3.42, 3.3],
}
D_SOG_GG = {
    "WT":  [4.5, 4.2, 4.12, 4.08, 4.0, 3.95, 3.85, 3.75, 3.65, 3.58, 3.5, 3.4, 3.32, 3.22, 3.12, 3.02, 2.92, 2.85, 2.78, 2.7],
    "AVA": [4.65, 4.65, 4.62, 4.6, 4.58, 4.55, 4.52, 4.5, 4.48, 4.46, 4.45, 4.42, 4.38, 4.32, 4.3, 4.25, 4.2, 4.18, 4.18, 4.15],
    "AVE": [4.55, 4.5, 4.45, 4.4, 4.32, 4.25, 4.2, 4.12, 4.05, 3.98, 3.92, 3.85, 3.78, 3.72, 3.65, 3.58, 3.48, 3.42, 3.35, 3.3],
}
D_HIS_GG = {
    "WT":  [4.5, 4.25, 3.95, 3.65, 3.35, 3.05, 2.75, 2.4, 2.05, 1.75, 1.55, 1.42, 1.32, 1.28, 1.28, 1.3, 1.35, 1.4, 1.45, 1.55],
    "AVA": [4.5, 4.3, 3.95, 3.6, 3.3, 3.05, 2.9, 2.8, 2.72, 2.65, 2.6, 2.52, 2.45, 2.38, 2.35, 2.32, 2.3, 2.3, 2.32, 2.4],
    "AVE": [4.5, 3.8, 3.15, 2.75, 2.5, 2.38, 2.3, 2.22, 2.15, 2.08, 2.05, 2.05, 2.02, 2.0, 2.0, 1.98, 1.95, 1.98, 2.02, 2.1],
}

# ---- RMD / RME / SMB / SMD
E_CASP_LT = {
    "WT":  [4.6, 4.6, 4.62, 4.72, 4.95, 5.3, 5.65, 5.95, 6.18, 6.35, 6.5, 6.57, 6.62, 6.65, 6.67, 6.68, 6.7, 6.72, 6.72, 6.75],
    "RMD": [4.65, 4.65, 4.65, 4.68, 4.75, 4.85, 5.0, 5.15, 5.3, 5.45, 5.58, 5.68, 5.78, 5.88, 5.98, 6.08, 6.18, 6.25, 6.35, 6.45],
    "RME": [4.55, 4.53, 4.52, 4.5, 4.48, 4.47, 4.45, 4.43, 4.42, 4.4, 4.38, 4.35, 4.32, 4.3, 4.27, 4.23, 4.2, 4.17, 4.13, 4.1],
    "SMB": [4.6, 4.6, 4.6, 4.62, 4.7, 4.8, 4.95, 5.1, 5.25, 5.35, 5.45, 5.5, 5.55, 5.6, 5.65, 5.7, 5.75, 5.78, 5.82, 5.85],
    "SMD": [4.65, 4.65, 4.65, 4.68, 4.75, 4.9, 5.05, 5.2, 5.28, 5.32, 5.35, 5.35, 5.35, 5.35, 5.35, 5.32, 5.3, 5.28, 5.26, 5.25],
}
E_SOG_LT = {
    "WT":  [4.5, 4.5, 4.55, 4.7, 5.0, 5.35, 5.7, 6.05, 6.3, 6.45, 6.55, 6.7, 6.85, 6.97, 7.0, 6.98, 6.98, 7.0, 6.9, 6.85],
    "RME": [4.5, 4.5, 4.5, 4.55, 4.6, 4.62, 4.65, 4.68, 4.67, 4.65, 4.6, 4.55, 4.5, 4.45, 4.4, 4.38, 4.32, 4.28, 4.22, 4.2],
    "SMD": [4.5, 4.5, 4.52, 4.58, 4.75, 4.95, 5.2, 5.45, 5.7, 5.85, 5.95, 6.05, 6.1, 6.12, 6.15, 6.18, 6.2, 6.22, 6.25, 6.3],
}
E_HIS_LT = {
    "WT":  [4.55, 4.55, 4.55, 4.55, 4.95, 5.4, 5.9, 6.25, 6.5, 6.62, 6.7, 6.78, 6.82, 6.85, 6.88, 6.9, 6.95, 6.95, 6.92, 6.9],
    "RMD": [4.45, 4.4, 4.32, 4.22, 4.6, 5.2, 5.75, 6.2, 6.5, 6.7, 6.82, 6.9, 6.95, 7.0, 7.05, 7.1, 7.15, 7.18, 7.25, 7.3],
    "RME": [4.55, 4.55, 4.52, 4.52, 4.95, 5.55, 6.15, 6.6, 6.9, 7.05, 7.1, 7.12, 7.1, 7.1, 7.1, 7.1, 7.1, 7.05, 6.95, 6.85],
    "SMB": [4.55, 4.55, 4.55, 4.55, 4.85, 5.2, 5.55, 5.85, 6.05, 6.2, 6.3, 6.4, 6.5, 6.58, 6.65, 6.72, 6.78, 6.82, 6.85, 6.85],
    "SMD": [4.45, 4.45, 4.42, 4.42, 4.6, 4.9, 5.1, 5.25, 5.38, 5.45, 5.5, 5.5, 5.52, 5.52, 5.5, 5.52, 5.5, 5.48, 5.45, 5.45],
}
E_CASP_GT = {
    "WT":  [4.55, 4.2, 3.8, 3.35, 2.95, 2.65, 2.42, 2.28, 2.18, 2.1, 2.05, 2.02, 2.0, 2.0, 1.98, 1.96, 1.95, 1.93, 1.92, 1.9],
    "RMD": [4.6, 4.6, 4.58, 4.52, 4.42, 4.3, 4.12, 3.92, 3.75, 3.6, 3.45, 3.35, 3.28, 3.2, 3.15, 3.1, 3.05, 3.0, 2.98, 2.95],
    "RME": [4.55, 4.55, 4.55, 4.55, 4.52, 4.45, 4.35, 4.25, 4.15, 4.05, 3.95, 3.88, 3.82, 3.75, 3.7, 3.65, 3.6, 3.58, 3.55, 3.5],
    "SMB": [4.55, 4.55, 4.55, 4.52, 4.45, 4.35, 4.2, 4.02, 3.88, 3.75, 3.65, 3.55, 3.48, 3.42, 3.4, 3.38, 3.36, 3.35, 3.35, 3.35],
    "SMD": [4.6, 4.6, 4.58, 4.55, 4.45, 4.3, 4.12, 3.92, 3.75, 3.62, 3.55, 3.5, 3.47, 3.45, 3.45, 3.48, 3.5, 3.5, 3.5, 3.5],
}
E_SOG_GT = {
    "WT":  [4.5, 4.05, 3.7, 3.35, 3.05, 2.8, 2.62, 2.5, 2.4, 2.32, 2.25, 2.25, 2.22, 2.15, 2.08, 2.02, 1.98, 1.95, 1.92, 2.0],
    "RME": [4.5, 4.48, 4.42, 4.3, 4.15, 3.98, 3.78, 3.6, 3.42, 3.25, 3.1, 2.95, 2.78, 2.62, 2.48, 2.35, 2.22, 2.1, 1.98, 1.85],
    "SMD": [4.5, 4.48, 4.42, 4.3, 4.15, 3.98, 3.78, 3.6, 3.42, 3.28, 3.15, 3.05, 2.98, 2.95, 2.92, 2.9, 2.85, 2.8, 2.75, 2.7],
}
E_HIS_GT = {
    "WT":  [4.4, 3.7, 3.1, 2.7, 2.4, 2.2, 2.05, 1.92, 1.85, 1.78, 1.72, 1.68, 1.62, 1.58, 1.55, 1.6, 1.7, 1.75, 1.78, 1.8],
    "RMD": [4.4, 4.1, 3.6, 3.25, 3.0, 2.85, 2.7, 2.6, 2.5, 2.42, 2.45, 2.45, 2.4, 2.35, 2.3, 2.25, 2.2, 2.15, 2.1, 2.0],
    "RME": [4.4, 4.1, 3.6, 3.2, 2.95, 2.75, 2.55, 2.4, 2.28, 2.15, 2.05, 1.95, 1.88, 1.8, 1.72, 1.68, 1.62, 1.58, 1.55, 1.5],
    "SMB": [4.45, 4.2, 3.7, 3.3, 3.0, 2.8, 2.6, 2.45, 2.35, 2.25, 2.2, 2.12, 2.05, 2.0, 1.95, 1.9, 1.85, 1.8, 1.78, 1.75],
    "SMD": [4.5, 4.3, 3.85, 3.45, 3.1, 2.85, 2.68, 2.55, 2.45, 2.38, 2.3, 2.25, 2.2, 2.15, 2.12, 2.08, 2.05, 2.02, 2.0, 2.0],
}
E_CASP_GG = {
    "WT":  [4.5, 4.35, 4.2, 4.05, 3.92, 3.8, 3.68, 3.55, 3.45, 3.38, 3.3, 3.22, 3.15, 3.1, 3.05, 2.98, 2.9, 2.85, 2.8, 2.75],
    "RMD": [4.6, 4.57, 4.54, 4.5, 4.45, 4.4, 4.35, 4.3, 4.25, 4.22, 4.2, 4.17, 4.13, 4.1, 4.05, 4.0, 3.95, 3.92, 3.88, 3.8],
    "RME": [4.6, 4.58, 4.57, 4.55, 4.54, 4.52, 4.5, 4.5, 4.48, 4.47, 4.46, 4.45, 4.45, 4.45, 4.44, 4.42, 4.4, 4.4, 4.4, 4.4],
    "SMB": [4.6, 4.58, 4.57, 4.56, 4.55, 4.53, 4.52, 4.5, 4.5, 4.5, 4.5, 4.48, 4.47, 4.46, 4.45, 4.45, 4.45, 4.43, 4.42, 4.4],
    "SMD": [4.6, 4.56, 4.53, 4.5, 4.45, 4.4, 4.35, 4.3, 4.28, 4.25, 4.22, 4.2, 4.18, 4.15, 4.12, 4.08, 4.02, 4.0, 3.98, 3.95],
}
E_SOG_GG = {
    "WT":  [4.5, 4.3, 4.18, 4.12, 4.08, 4.02, 3.95, 3.85, 3.75, 3.65, 3.55, 3.42, 3.28, 3.15, 3.05, 2.95, 2.85, 2.8, 2.75, 2.7],
    "RME": [4.5, 4.35, 4.22, 4.18, 4.12, 4.08, 4.02, 3.95, 3.88, 3.82, 3.75, 3.65, 3.52, 3.42, 3.32, 3.22, 3.12, 3.05, 2.98, 2.9],
    "SMD": [4.5, 4.35, 4.22, 4.15, 4.1, 4.05, 4.0, 3.92, 3.85, 3.8, 3.72, 3.62, 3.55, 3.45, 3.38, 3.32, 3.25, 3.2, 3.18, 3.15],
}
E_HIS_GG = {
    "WT":  [4.5, 4.25, 3.9, 3.55, 3.2, 2.9, 2.6, 2.3, 2.0, 1.75, 1.55, 1.4, 1.3, 1.25, 1.25, 1.25, 1.28, 1.32, 1.42, 1.55],
    "RMD": [4.5, 4.25, 3.95, 3.6, 3.3, 3.1, 2.95, 2.82, 2.7, 2.6, 2.5, 2.45, 2.38, 2.32, 2.3, 2.28, 2.25, 2.25, 2.25, 2.25],
    "RME": [4.55, 4.42, 4.3, 4.18, 4.05, 3.95, 3.85, 3.75, 3.68, 3.62, 3.58, 3.55, 3.5, 3.47, 3.45, 3.4, 3.35, 3.3, 3.25, 3.2],
    "SMB": [4.55, 4.48, 4.42, 4.38, 4.32, 4.28, 4.22, 4.18, 4.12, 4.08, 4.05, 4.02, 4.0, 3.97, 3.95, 3.92, 3.9, 3.88, 3.86, 3.85],
    "SMD": [4.5, 4.25, 3.95, 3.65, 3.35, 3.15, 3.0, 2.92, 2.85, 2.8, 2.75, 2.72, 2.68, 2.65, 2.6, 2.6, 2.6, 2.58, 2.55, 2.5],
}

# half-width of the error bars (SEM), default and larger ones
SEM_DEFAULT = 0.07
SEM = {
    ("A_CASP_LT", "AWC"): 0.12, ("A_CASP_LT", "ASI"): 0.1, ("A_CASP_LT", "AFD"): 0.09,
    ("A_SOG_LT", "AWC"): 0.15, ("A_SOG_LT", "WT"): 0.1,
    ("A_HIS_LT", "AFD"): 0.2, ("A_HIS_LT", "WT"): 0.14, ("A_HIS_LT", "ASI"): 0.1,
    ("A_SOG_GT", "AFD"): 0.15, ("A_HIS_GG", "AWC"): 0.12, ("A_CASP_GG", "AFD"): 0.12,
    ("B_SOG_LT", "AIY"): 0.3, ("B_SOG_LT", "WT"): 0.12,
    ("B_HIS_LT", "WT"): 0.2, ("B_HIS_LT", "AIA"): 0.2, ("B_HIS_LT", "AIB"): 0.2,
    ("B_HIS_LT", "AIY"): 0.2, ("B_HIS_LT", "AIZ"): 0.2,
    ("B_CASP_GG", "AIA"): 0.15, ("B_CASP_GG", "AIB"): 0.15, ("B_SOG_GG", "AIA"): 0.12,
    ("C_CASP_LT", "RIS"): 0.12, ("C_HIS_LT", "WT"): 0.15,
    ("C_SOG_GG", "RIA"): 0.2, ("C_SOG_GG", "RIM"): 0.12, ("C_HIS_GG", "RIS"): 0.12,
    ("D_HIS_LT", "WT"): 0.12, ("D_HIS_LT", "AVE"): 0.12,
    ("D_HIS_GG", "AVA"): 0.15, ("D_HIS_GG", "AVE"): 0.12,
    ("E_HIS_LT", "SMD"): 0.15, ("E_SOG_LT", "WT"): 0.12,
    ("E_HIS_GG", "WT"): 0.1, ("E_HIS_GG", "SMD"): 0.12,
}

# ---------------------------------------------------------------- style / layout
W, H = 1421, 1203
FONT = "Liberation Sans"
SERIF = "Liberation Serif"
RED, GREEN, BLUE, MAGENTA = "#ff1a1a", "#1fa84e", "#1414f5", "#f51af5"
COLOR = {
    "WT": "#000000",
    "AFD": RED, "ASI": GREEN, "AWC": BLUE,
    "AIA": RED, "AIB": GREEN, "AIY": BLUE, "AIZ": MAGENTA,
    "RIA": RED, "RIB": GREEN, "RIM": BLUE, "RIS": MAGENTA,
    "AVA": RED, "AVE": GREEN,
    "RMD": RED, "RME": GREEN, "SMB": BLUE, "SMD": MAGENTA,
}

# block, y-axis x (px), legend text x (px), method, series, panel names (T<Tc, T>Tc, T>>Tc)
COLUMNS = [
    (0, 40, 58, "recCaspase", ["WT", "AFD", "ASI", "AWC"], ["A_CASP_LT", "A_CASP_GT", "A_CASP_GG"]),
    (0, 193, 203, "mito-miniSOG", ["WT", "AFD", "ASI", "AWC"], ["A_SOG_LT", "A_SOG_GT", "A_SOG_GG"]),
    (0, 347, 381, "HisCl", ["WT", "AFD", "ASI", "AWC"], ["A_HIS_LT", "A_HIS_GT", "A_HIS_GG"]),
    (0, 519, 536, "recCaspase", ["WT", "AIA", "AIB", "AIY", "AIZ"], ["B_CASP_LT", "B_CASP_GT", "B_CASP_GG"]),
    (0, 673, 681, "mito-miniSOG", ["WT", "AIA", "AIB", "AIY", "AIZ"], ["B_SOG_LT", "B_SOG_GT", "B_SOG_GG"]),
    (0, 827, 855, "HisCl", ["WT", "AIA", "AIB", "AIY", "AIZ"], ["B_HIS_LT", "B_HIS_GT", "B_HIS_GG"]),
    (0, 997, 1017, "recCaspase", ["WT", "RIA", "RIB", "RIM", "RIS"], ["C_CASP_LT", "C_CASP_GT", "C_CASP_GG"]),
    (0, 1149, 1162, "mito-miniSOG", ["WT", "RIA", "RIB", "RIM"], ["C_SOG_LT", "C_SOG_GT", "C_SOG_GG"]),
    (0, 1303, 1339, "HisCl", ["WT", "RIA", "RIB", "RIM", "RIS"], ["C_HIS_LT", "C_HIS_GT", "C_HIS_GG"]),
    (1, 40, 60, "recCaspase", ["WT", "AVA", "AVE"], ["D_CASP_LT", "D_CASP_GT", "D_CASP_GG"]),
    (1, 193, 204, "mito-miniSOG", ["WT", "AVA", "AVE"], ["D_SOG_LT", "D_SOG_GT", "D_SOG_GG"]),
    (1, 347, 382, "HisCl", ["WT", "AVA", "AVE"], ["D_HIS_LT", "D_HIS_GT", "D_HIS_GG"]),
    (1, 519, 536, "recCaspase", ["WT", "RMD", "RME", "SMB", "SMD"], ["E_CASP_LT", "E_CASP_GT", "E_CASP_GG"]),
    (1, 673, 681, "mito-miniSOG", ["WT", "RME", "SMD"], ["E_SOG_LT", "E_SOG_GT", "E_SOG_GG"]),
    (1, 827, 859, "HisCl", ["WT", "RMD", "RME", "SMB", "SMD"], ["E_HIS_LT", "E_HIS_GT", "E_HIS_GG"]),
]

ROWS = ["LT", "GT", "GG"]
ROW_DOMAIN = {"LT": (151, 260), "GT": (333, 443), "GG": (487, 595)}
ROW_BAR = {"LT": (144, 268), "GT": (325, 448), "GG": (479, 602)}
ROW_RANGE = {"LT": [3, 8.1], "GT": [0.95, 6], "GG": [0.95, 6]}
ROW_TICKS = {"LT": Y_TICKS_LT, "GT": Y_TICKS_HI, "GG": Y_TICKS_HI}
ROW_WHITE = {"LT": 0.64, "GT": 0.25, "GG": 0.25}
ROW_LABEL = {
    "LT": "<i>T</i> &lt; <i>T</i><sub><i>c</i></sub>",
    "GT": "<i>T</i> &gt; <i>T</i><sub><i>c</i></sub>",
    "GG": "<i>T</i> ≫ <i>T</i><sub><i>c</i></sub>",
}
BLOCK_DY = [0, 588]
LEGEND_Y0 = [51, 641]
LEGEND_TOP_OFFSET = 15
PLOT_W = 105
BAR_W = 23


def gradient_uri(white_at):
    svg = (
        '<svg xmlns="http://www.w3.org/2000/svg" width="24" height="124" '
        'viewBox="0 0 24 124" preserveAspectRatio="none">'
        '<defs><linearGradient id="g" x1="0" y1="0" x2="0" y2="1">'
        '<stop offset="0" stop-color="rgb(240,24,30)"/>'
        f'<stop offset="{white_at * 0.45:.3f}" stop-color="rgb(240,90,95)"/>'
        f'<stop offset="{white_at:.3f}" stop-color="rgb(232,226,236)"/>'
        '<stop offset="1" stop-color="rgb(22,110,192)"/>'
        '</linearGradient></defs>'
        '<rect x="0" y="0" width="24" height="124" fill="url(#g)"/></svg>'
    )
    return "data:image/svg+xml;base64," + base64.b64encode(svg.encode()).decode()


GRAD = {r: gradient_uri(ROW_WHITE[r]) for r in ROWS}


def xp(px):
    return px / W


def yp(py):
    return 1 - py / H


def rgba(hexcol, a):
    h = hexcol.lstrip("#")
    return f"rgba({int(h[0:2], 16)},{int(h[2:4], 16)},{int(h[4:6], 16)},{a})"


def note(text, x, y, font, **kw):
    d = dict(text=text, x=xp(x), y=yp(y), xref="paper", yref="paper", showarrow=False,
             xanchor="center", yanchor="middle", font=font)
    d.update(kw)
    return d


for _b, _ax, _lx, _m, _keys, _names in COLUMNS:
    for _nm in _names:
        for _k, _v in globals()[_nm].items():
            if len(_v) != len(TIME):
                raise ValueError(f"{_nm}/{_k} has {len(_v)} values")

BOLD14 = dict(family=FONT, size=14, color="black", weight="bold")
fig = go.Figure()
layout = {}
annotations = []
images = []
n = 0
for li, (block, ax_x, leg_x, method, keys, names) in enumerate(COLUMNS, start=1):
    dy = BLOCK_DY[block]
    legend_key = "legend" if li == 1 else f"legend{li}"
    first_axes = None
    for row, name in zip(ROWS, names):
        n += 1
        xa = "x" if n == 1 else f"x{n}"
        ya = "y" if n == 1 else f"y{n}"
        if first_axes is None:
            first_axes = (xa, ya)
        data = globals()[name]
        top, bot = ROW_DOMAIN[row]
        top += dy
        bot += dy
        for key in keys:
            if key not in data:
                continue
            vals = data[key]
            sem = SEM.get((name, key), SEM_DEFAULT)
            upper = [v + sem for v in vals]
            lower = [v - sem for v in vals]
            fig.add_trace(go.Scatter(
                x=TIME + TIME[::-1], y=upper + lower[::-1], xaxis=xa, yaxis=ya,
                mode="lines", fill="toself", fillcolor=rgba(COLOR[key], 0.28),
                line=dict(width=0, shape="spline", smoothing=0.6), hoverinfo="skip", showlegend=False))
            fig.add_trace(go.Scatter(
                x=TIME, y=vals, xaxis=xa, yaxis=ya, mode="lines",
                line=dict(color=COLOR[key], width=1.8, shape="spline", smoothing=0.6),
                hoverinfo="skip", showlegend=False))

        axis_common = dict(showline=True, linecolor="black", linewidth=1.5, ticks="inside",
                           ticklen=3, tickwidth=1.2, tickcolor="black", showgrid=False,
                           zeroline=False, fixedrange=True, automargin=False)
        layout["xaxis" if n == 1 else f"xaxis{n}"] = dict(
            domain=[xp(ax_x), xp(ax_x + PLOT_W)], anchor=ya, range=[0, 59],
            tickmode="array", tickvals=X_TICKS, side="bottom" if row == "LT" else "top",
            ticklabelstandoff=-3 if row == "LT" else 0,
            tickfont=dict(family=FONT, size=13.5, color="black", weight="bold"),
            **axis_common)
        layout["yaxis" if n == 1 else f"yaxis{n}"] = dict(
            domain=[yp(bot), yp(top)], anchor=xa, range=ROW_RANGE[row],
            tickmode="array", tickvals=ROW_TICKS[row], ticklabelstandoff=4,
            tickfont=dict(family=FONT, size=14.5, color="black", weight="bold"),
            **axis_common)

        btop, bbot = ROW_BAR[row]
        images.append(dict(source=GRAD[row], xref="paper", yref="paper",
                           x=xp(ax_x - BAR_W), y=yp(btop + dy), sizex=BAR_W / W,
                           sizey=(bbot - btop) / H, sizing="stretch", layer="below",
                           xanchor="left", yanchor="top"))

        cx = ax_x + PLOT_W / 2
        annotations.append(note("TTX index", ax_x - 30, (top + bot) / 2, BOLD14, textangle=-90))
        t_y = bot + 27 if row == "LT" else top - 27
        annotations.append(note("Time (min)", cx, t_y, BOLD14))
        lab_y = {"LT": top + 5, "GT": bot - 3, "GG": bot + 9}[row]
        annotations.append(note(ROW_LABEL[row], ax_x + 53, lab_y,
                                dict(family=SERIF, size=15, color="#222222")))

    # legend entries for this column
    for key in keys:
        label = "WT" if key == "WT" else f"{key}::{method}"
        fig.add_trace(go.Scatter(
            x=[None], y=[None], xaxis=first_axes[0], yaxis=first_axes[1],
            mode="lines+markers", name=label, legend=legend_key,
            line=dict(color=COLOR[key], width=2.5), marker=dict(color=COLOR[key], size=7),
            showlegend=True))
    layout[legend_key] = dict(
        x=xp(leg_x - 40), y=yp(LEGEND_Y0[block] - LEGEND_TOP_OFFSET), xanchor="left", yanchor="top",
        bgcolor="rgba(0,0,0,0)", borderwidth=0, itemwidth=30, tracegroupgap=0,
        traceorder="normal",
        font=dict(family=FONT, size=10.5, color="black", weight="bold"))

annotations.append(note("<b>B</b>", 20, 22, dict(family=FONT, size=33, color="black")))
annotations.append(note("5", 1296, 1191, dict(family=FONT, size=22, color="#222222"),
                        yanchor="top"))

fig.update_layout(
    width=W, height=H, margin=dict(l=0, r=0, t=0, b=0, pad=0, autoexpand=False),
    paper_bgcolor="white", plot_bgcolor="rgba(0,0,0,0)",
    showlegend=True, hovermode=False,
    annotations=annotations, images=images,
    **layout,
)

fig.write_html("out.html", config={"displayModeBar": False, "staticPlot": True},
               post_script="document.body.style.margin='0';")
